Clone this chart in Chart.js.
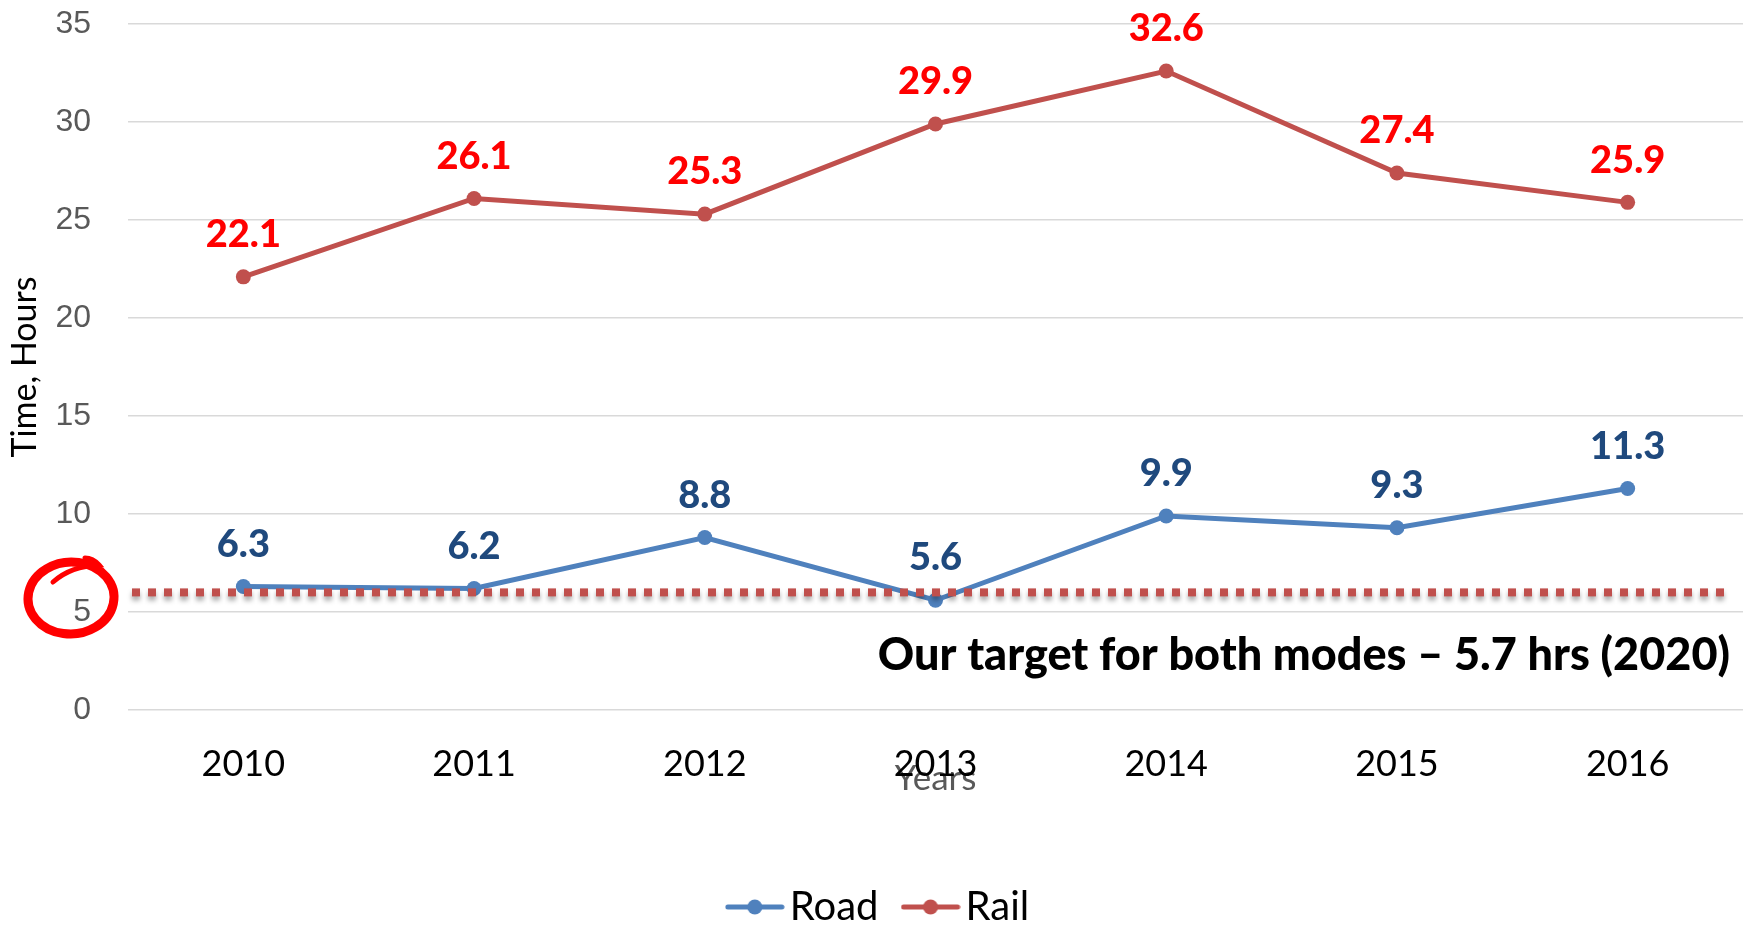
<!DOCTYPE html>
<html>
<head>
<meta charset="utf-8">
<script src="https://cdn.jsdelivr.net/npm/chart.js@4.4.0/dist/chart.umd.min.js"></script>
<style>
  html, body { margin: 0; padding: 0; background: #fff; }
</style>
</head>
<body>
<canvas id="chart" width="1752" height="925"></canvas>
<script>
const years = ["2010", "2011", "2012", "2013", "2014", "2015", "2016"];
const roadHours = [6.3, 6.2, 8.8, 5.6, 9.9, 9.3, 11.3];
const railHours = [22.1, 26.1, 25.3, 29.9, 32.6, 27.4, 25.9];
const yTickValues = [0, 5, 10, 15, 20, 25, 30, 35];
const targetLevel = 6;
const targetText = "Our target for both modes \u2013 5.7 hrs (2020)";

const ROAD = "#4F81BD";
const RAIL = "#C0504D";

// little line-and-dot marks for the legend
function legendMark(color) {
  const c = document.createElement("canvas");
  c.width = 60;
  c.height = 18;
  const g = c.getContext("2d");
  g.strokeStyle = color;
  g.lineWidth = 5;
  g.lineCap = "round";
  g.beginPath();
  g.moveTo(3, 9);
  g.lineTo(57, 9);
  g.stroke();
  g.fillStyle = color;
  g.beginPath();
  g.arc(30, 9, 7.5, 0, Math.PI * 2);
  g.fill();
  return c;
}
const legendMarks = [legendMark(ROAD), legendMark(RAIL)];

const overlay = {
  id: "overlay",
  afterDatasetsDraw(chart) {
    const { ctx, chartArea } = chart;
    const yScale = chart.scales.y;

    // dotted target line, sits over the road line
    const ty = yScale.getPixelForValue(targetLevel);
    ctx.save();
    ctx.strokeStyle = RAIL;
    ctx.lineWidth = 8;
    ctx.setLineDash([8, 8]);
    ctx.shadowColor = "rgba(0,0,0,0.35)";
    ctx.shadowBlur = 5;
    ctx.shadowOffsetY = 4;
    ctx.beginPath();
    ctx.moveTo(chartArea.left + 4, ty);
    ctx.lineTo(chartArea.right - 15, ty);
    ctx.stroke();
    ctx.restore();

    // value labels
    const colors = ["#1F497D", "#FF0000"];
    ctx.save();
    ctx.font = "900 38px Lato";
    ctx.textAlign = "center";
    ctx.textBaseline = "middle";
    chart.data.datasets.forEach((ds, i) => {
      ctx.fillStyle = colors[i];
      chart.getDatasetMeta(i).data.forEach((pt, j) => {
        ctx.fillText(ds.data[j].toFixed(1), pt.x, pt.y - 42);
      });
    });
    ctx.restore();
  },
  afterDraw(chart) {
    const { ctx, chartArea } = chart;
    const yScale = chart.scales.y;
    // target caption
    ctx.save();
    ctx.font = "900 45px Lato";
    ctx.fillStyle = "#000";
    ctx.textAlign = "right";
    ctx.textBaseline = "middle";
    ctx.fillText(targetText, chartArea.right - 13, yScale.getPixelForValue(targetLevel) + 63);
    ctx.restore();

    // hand drawn ring round the 5
    const cx = yScale.right - 57;
    const cy = yScale.getPixelForValue(5) - 16;
    ctx.save();
    ctx.strokeStyle = "#FF0000";
    ctx.lineCap = "round";
    ctx.lineWidth = 9;
    ctx.beginPath();
    ctx.ellipse(cx, cy + 2, 43, 36, -0.05, -1.35, -1.35 + Math.PI * 2);
    ctx.stroke();
    ctx.lineWidth = 5;
    ctx.beginPath();
    ctx.moveTo(cx + 14, cy - 38);
    ctx.quadraticCurveTo(cx + 22, cy - 38, cx + 28, cy - 31);
    ctx.quadraticCurveTo(cx, cy - 30, cx - 18, cy - 14);
    ctx.stroke();
    ctx.restore();
  }
};

new Chart(document.getElementById("chart"), {
  type: "line",
  data: {
    labels: years,
    datasets: [
      {
        label: "Road",
        data: roadHours,
        borderColor: ROAD,
        backgroundColor: ROAD,
        borderWidth: 5,
        pointRadius: 7.5,
        pointBorderWidth: 0,
        pointBackgroundColor: ROAD,
        tension: 0
      },
      {
        label: "Rail",
        data: railHours,
        borderColor: RAIL,
        backgroundColor: RAIL,
        borderWidth: 5,
        pointRadius: 7.5,
        pointBorderWidth: 0,
        pointBackgroundColor: RAIL,
        tension: 0
      }
    ]
  },
  options: {
    responsive: false,
    animation: false,
    layout: { padding: { left: 26, right: 9, top: 24, bottom: -12 } },
    plugins: {
      tooltip: { enabled: false },
      legend: {
        position: "bottom",
        labels: {
          usePointStyle: true,
          pointStyleWidth: 30,
          padding: 37,
          color: "#000",
          font: { family: "Lato", size: 40 },
          generateLabels(chart) {
            const items = Chart.defaults.plugins.legend.labels.generateLabels(chart);
            items.forEach((it, i) => { it.pointStyle = legendMarks[i]; });
            return items;
          }
        }
      }
    },
    scales: {
      x: {
        offset: true,
        grid: { display: false, drawTicks: false },
        border: { display: false },
        ticks: {
          padding: 33,
          color: "#000",
          font: { family: "Lato", size: 36 }
        },
        title: {
          display: true,
          text: "Years",
          color: "#595959",
          font: { family: "Lato", size: 35 },
          padding: { top: 0, bottom: 50 }
        },
        afterFit(scale) { scale.height = 140; }
      },
      y: {
        min: 0,
        max: 35,
        afterBuildTicks(scale) {
          scale.ticks = yTickValues.map(v => ({ value: v }));
        },
        grid: { color: "#D9D9D9", lineWidth: 1.5, drawTicks: false },
        border: { display: false },
        ticks: {
          padding: 37,
          color: "#595959",
          font: { family: "Liberation Sans", size: 32 }
        },
        title: {
          display: true,
          text: "Time, Hours",
          color: "#000",
          font: { family: "Lato", size: 34 },
          padding: { top: -21, bottom: 0 }
        },
        afterFit(scale) {
          scale.width = 102;
          scale.paddingTop = 10;
        }
      }
    }
  },
  plugins: [overlay]
});
</script>
</body>
</html>
